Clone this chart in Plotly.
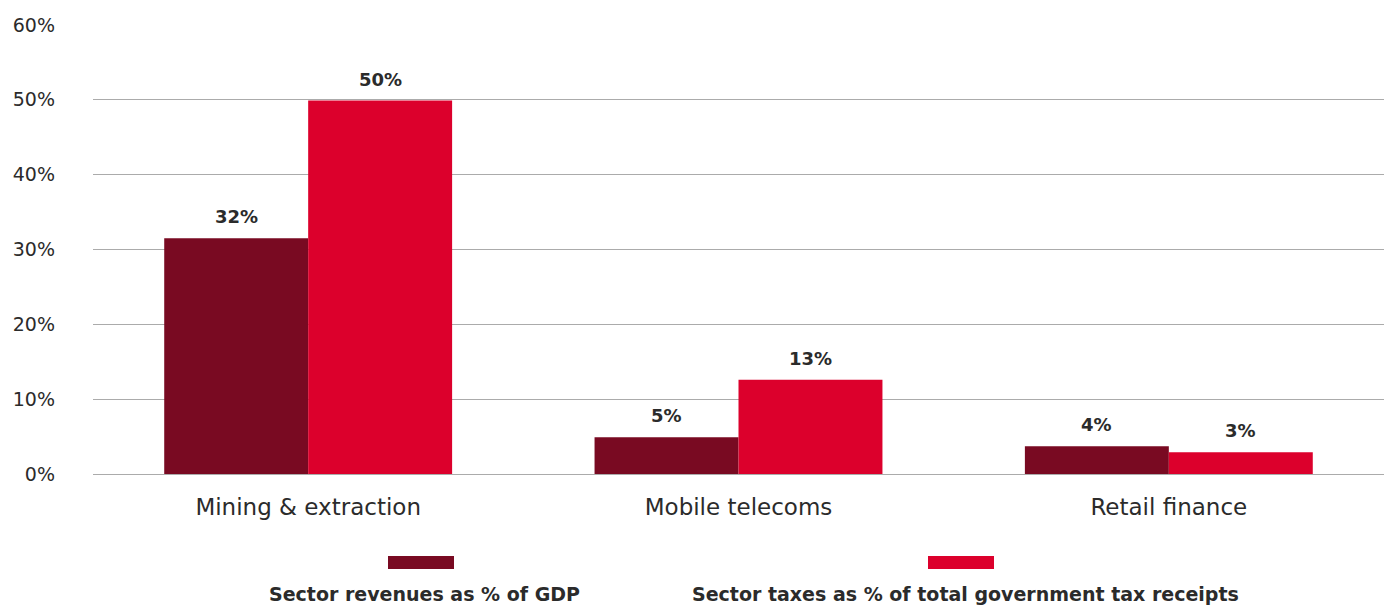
import plotly.graph_objects as go

categories = ["Mining & extraction", "Mobile telecoms", "Retail finance"]
revenues_gdp = [31.5, 4.9, 3.7]
taxes_share = [49.9, 12.6, 2.9]
revenues_labels = ["32%", "5%", "4%"]
taxes_labels = ["50%", "13%", "3%"]
series_names = ["Sector revenues as % of GDP", "Sector taxes as % of total government tax receipts"]
y_ticks = [0, 10, 20, 30, 40, 50, 60]
y_tick_labels = ["0%", "10%", "20%", "30%", "40%", "50%", "60%"]

DARK = "#790A22"
RED = "#DC002C"
FONT = "DejaVu Sans"
TEXT = "#2b2b2b"

W, H = 1384, 606
ML, MR, MT, MB = 93, 0, 25, 132
BARGAP = 0.331

fig = go.Figure()
fig.add_trace(go.Bar(x=categories, y=revenues_gdp, name=series_names[0],
                     marker=dict(color=DARK, line=dict(width=0)), showlegend=False))
fig.add_trace(go.Bar(x=categories, y=taxes_share, name=series_names[1],
                     marker=dict(color=RED, line=dict(width=0)), showlegend=False))

plot_w = W - ML - MR
plot_h = H - MT - MB
half = plot_w / len(categories) * (1 - BARGAP) / 4

annotations = []
for vals, labs, sign in [(revenues_gdp, revenues_labels, -1), (taxes_share, taxes_labels, 1)]:
    for c, v, l in zip(categories, vals, labs):
        annotations.append(dict(x=c, y=v, xref="x", yref="y", text="<b>%s</b>" % l,
                                showarrow=False, xshift=sign * half, yshift=9,
                                yanchor="bottom", font=dict(family=FONT, size=18, color=TEXT)))

# custom legend: (name, colour, swatch centre px, text centre px)
legend_items = [(series_names[0], DARK, 421, 424.5), (series_names[1], RED, 961, 965)]
shapes = []
for name, col, sx, tx in legend_items:
    x0 = (sx - 33 - ML) / plot_w
    x1 = (sx + 33 - ML) / plot_w
    y0 = (H - MB - 569) / plot_h
    y1 = (H - MB - 556) / plot_h
    shapes.append(dict(type="rect", xref="paper", yref="paper", x0=x0, x1=x1, y0=y0, y1=y1,
                       fillcolor=col, line=dict(width=0)))
    annotations.append(dict(x=(tx - ML) / plot_w, y=(H - MB - 594) / plot_h, xref="paper", yref="paper",
                            text="<b>%s</b>" % name, showarrow=False, xanchor="center", yanchor="middle",
                            font=dict(family=FONT, size=19, color=TEXT)))

fig.update_layout(
    width=W, height=H,
    margin=dict(l=ML, r=MR, t=MT, b=MB, pad=0),
    paper_bgcolor="white", plot_bgcolor="white",
    barmode="group", bargap=BARGAP, bargroupgap=0,
    font=dict(family=FONT, color=TEXT),
    shapes=shapes, annotations=annotations,
    xaxis=dict(showgrid=False, showline=False, ticks="", tickfont=dict(size=23, color=TEXT),
               ticklabelstandoff=17),
    yaxis=dict(range=[0, 60], tickvals=y_ticks, ticktext=y_tick_labels,
               showgrid=True, gridcolor="#ABABAB", gridwidth=1,
               zeroline=True, zerolinecolor="#ABABAB", zerolinewidth=1,
               showline=False, ticks="", tickfont=dict(size=19, color=TEXT),
               ticklabelstandoff=37),
)

fig.write_html("out.html")
